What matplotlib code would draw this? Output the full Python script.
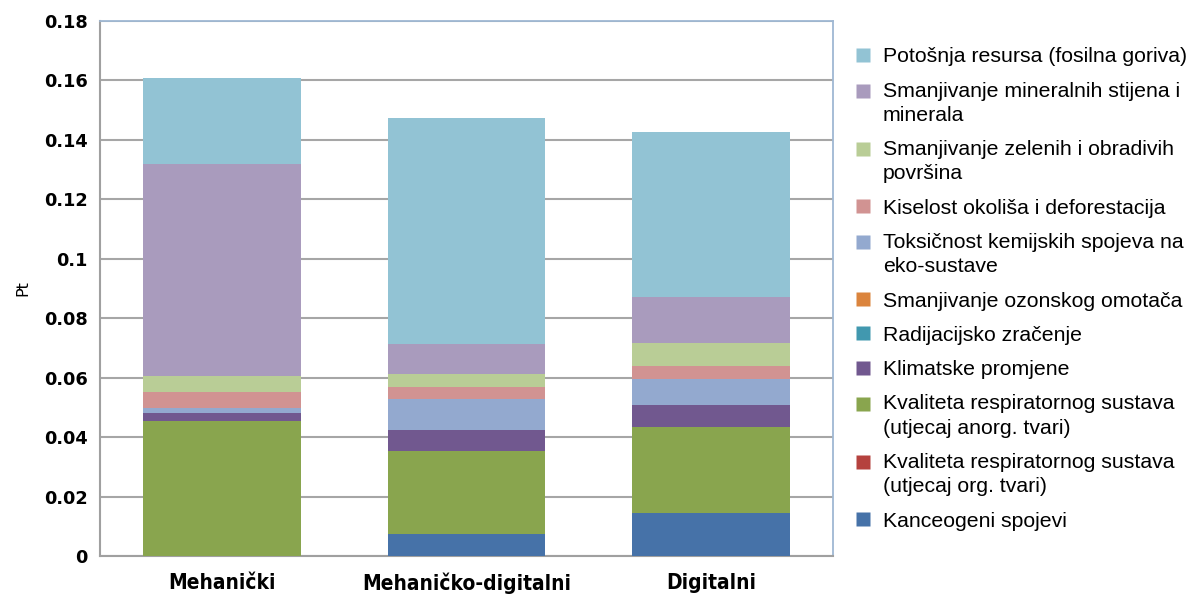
import matplotlib
matplotlib.use("Agg")
import matplotlib.pyplot as plt
from matplotlib.lines import Line2D
from matplotlib.legend_handler import HandlerLine2D
from matplotlib import font_manager
import numpy as np

categories = ["Mehanički", "Mehaničko-digitalni", "Digitalni"]

# stacking order: bottom -> top
series_names = [
    "Kanceogeni spojevi",
    "Kvaliteta respiratornog sustava\n(utjecaj org. tvari)",
    "Kvaliteta respiratornog sustava\n(utjecaj anorg. tvari)",
    "Klimatske promjene",
    "Radijacijsko zračenje",
    "Smanjivanje ozonskog omotača",
    "Toksičnost kemijskih spojeva na\neko-sustave",
    "Kiselost okoliša i deforestacija",
    "Smanjivanje zelenih i obradivih\npovršina",
    "Smanjivanje mineralnih stijena i\nminerala",
    "Potošnja resursa (fosilna goriva)",
]

kanceogeni   = [0.0000, 0.0074, 0.0143]
resp_org     = [0.0000, 0.0000, 0.0000]
resp_anorg   = [0.0453, 0.0280, 0.0291]
klimatske    = [0.0027, 0.0071, 0.0075]
radijacija   = [0.0000, 0.0000, 0.0000]
ozon         = [0.0000, 0.0000, 0.0000]
toksicnost   = [0.0019, 0.0102, 0.0088]
kiselost     = [0.0052, 0.0040, 0.0042]
zelene       = [0.0056, 0.0046, 0.0078]
minerali     = [0.0713, 0.0101, 0.0156]
fosilna      = [0.0288, 0.0760, 0.0555]

series_values = [kanceogeni, resp_org, resp_anorg, klimatske, radijacija, ozon,
                 toksicnost, kiselost, zelene, minerali, fosilna]

colors = ["#4672A8", "#B5423E", "#89A54E", "#71588F", "#4198AF", "#DB843D",
          "#93A9CF", "#D19392", "#B9CD96", "#A99BBD", "#92C3D4"]

yticks = [0, 0.02, 0.04, 0.06, 0.08, 0.1, 0.12, 0.14, 0.16, 0.18]
ytick_labels = ["0", "0.02", "0.04", "0.06", "0.08", "0.1", "0.12", "0.14", "0.16", "0.18"]

# pick a condensed bold font for the category labels if available
xfont = {"family": "DejaVu Sans", "stretch": "condensed", "size": 15, "weight": "bold"}
names = {f.name for f in font_manager.fontManager.ttflist}
if "Liberation Sans Narrow" in names:
    xfont = {"family": "Liberation Sans Narrow", "size": 17, "weight": "bold"}


class FirstLineHandler(HandlerLine2D):
    """Place the legend marker next to the first line of a wrapped label."""
    def __init__(self, shift, **kw):
        super().__init__(**kw)
        self.shift = shift

    def create_artists(self, legend, orig_handle, xdescent, ydescent, width,
                       height, fontsize, trans):
        arts = super().create_artists(legend, orig_handle, xdescent, ydescent,
                                      width, height, fontsize, trans)
        for a in arts:
            a.set_ydata(np.asarray(a.get_ydata(), dtype=float) + self.shift)
        return arts


fig = plt.figure(figsize=(12.01, 5.97), dpi=100)
ax = fig.add_axes([0.0833, 0.0687, 0.6103, 0.8961])

x = np.arange(len(categories))
bottom = np.zeros(len(categories))
handles = []
for name, vals, c in zip(series_names, series_values, colors):
    v = np.array(vals)
    ax.bar(x, v, width=0.645, bottom=bottom, color=c, edgecolor="none", zorder=3)
    bottom += v
    handles.append(Line2D([], [], marker="s", linestyle="none", markersize=9.5,
                          markerfacecolor=c, markeredgecolor="none", label=name))

ax.set_xlim(-0.5, 2.5)
ax.set_ylim(0, 0.18)
ax.set_yticks(yticks)
ax.set_yticklabels(ytick_labels, fontsize=12.8, fontweight="bold", family="DejaVu Sans")
ax.set_xticks(x)
ax.set_xticklabels(categories, **xfont)
ax.tick_params(axis="both", length=0)
ax.tick_params(axis="y", pad=9)
ax.tick_params(axis="x", pad=12)
ax.yaxis.grid(True, color="#A6A6A6", linewidth=1.5, zorder=0)
ax.set_axisbelow(True)
ax.set_ylabel("Pt", fontsize=11.5, family="DejaVu Sans", labelpad=10)

for s in ["top", "right"]:
    ax.spines[s].set_color("#9FB8D3")
    ax.spines[s].set_linewidth(1.3)
for s in ["left", "bottom"]:
    ax.spines[s].set_color("#A0A0A0")
    ax.spines[s].set_linewidth(1.5)

hmap = {h: FirstLineHandler(9.0) for h in handles if "\n" in h.get_label()}

leg = fig.legend(handles=handles[::-1], loc="upper left",
                 bbox_to_anchor=(0.704, 0.935), frameon=False,
                 prop={"family": ["Liberation Sans", "DejaVu Sans"], "size": 15.3},
                 handlelength=0.8, handletextpad=0.55, labelspacing=0.72,
                 borderaxespad=0, handler_map=hmap)
for t in leg.get_texts():
    t.set_linespacing(1.35)

fig.savefig("out.png", dpi=100, facecolor="white")
